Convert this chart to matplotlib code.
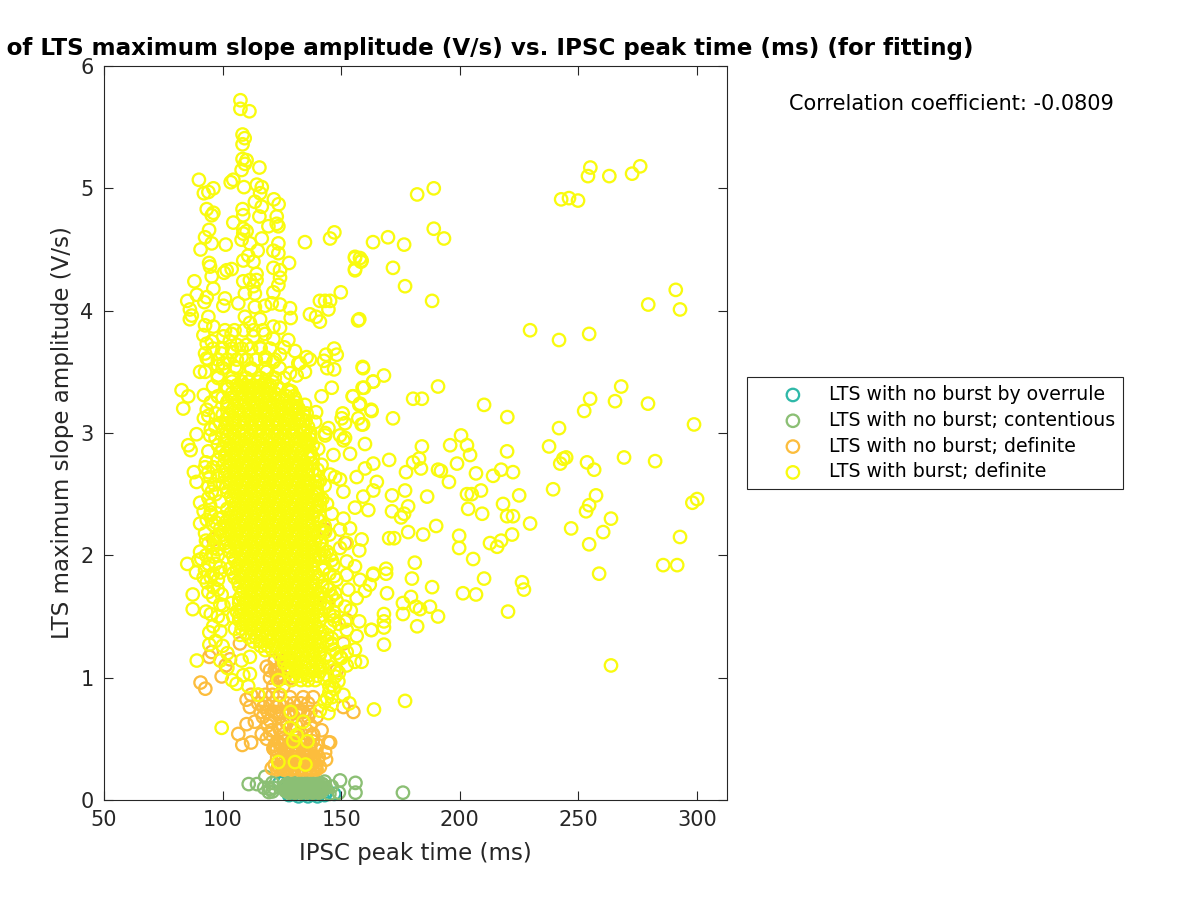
import matplotlib
matplotlib.use("Agg")
import matplotlib.pyplot as plt

TITLE = "Correlation of LTS maximum slope amplitude (V/s) vs. IPSC peak time (ms) (for fitting)"
XLABEL = "IPSC peak time (ms)"
YLABEL = "LTS maximum slope amplitude (V/s)"
NOTE = "Correlation coefficient: -0.0809"
LABELS = ["LTS with no burst by overrule", "LTS with no burst; contentious",
          "LTS with no burst; definite", "LTS with burst; definite"]
XTICKS = [50, 100, 150, 200, 250, 300]
YTICKS = [0, 1, 2, 3, 4, 5, 6]

overrule_x = [140, 147, 144, 126, 128, 132, 136, 143, 124, 130, 138, 127, 141]
overrule_y = [0.03, 0.05, 0.07, 0.15, 0.04, 0.03, 0.03, 0.04, 0.14, 0.05, 0.05, 0.1, 0.06]

contentious_x = [176, 156, 149.5, 156, 149, 111, 114.5, 118, 121, 117.5, 120, 121, 121.5, 119.5, 146, 143, 145,
                 127, 129.5, 132, 134.5, 137, 139.5, 142, 128, 130.5, 133, 135.5, 138, 140.5, 127, 129.5, 132, 134.5,
                 137, 139.5, 142, 128, 130.5, 133, 135.5, 138, 140.5, 129, 131.5, 134, 136.5, 139, 125.5, 143.5,
                 126.5, 128.5, 131, 133.5, 136, 138.5, 141, 127.5, 129, 132.5, 135, 137.5, 140, 142.5, 128, 130, 133, 136, 139, 141.5,
                 126, 127.5, 129, 130.5, 132, 133.5, 135, 136.5, 138, 139.5, 141, 142.5, 126.5, 128, 129.5, 131, 132.5, 134, 135.5, 137, 138.5, 140, 141.5,
                 127, 128.5, 130, 131.5, 133, 134.5, 136, 137.5, 139, 140.5, 142]
contentious_y = [0.06, 0.14, 0.16, 0.06, 0.06, 0.13, 0.13, 0.19, 0.14, 0.10, 0.09, 0.07, 0.10, 0.065, 0.11, 0.15, 0.05,
                 0.13, 0.13, 0.13, 0.13, 0.13, 0.13, 0.13, 0.105, 0.105, 0.105, 0.105, 0.105, 0.105, 0.08, 0.08, 0.08, 0.08,
                 0.08, 0.08, 0.08, 0.06, 0.06, 0.06, 0.06, 0.06, 0.06, 0.15, 0.15, 0.15, 0.15, 0.15, 0.1, 0.1,
                 0.115, 0.115, 0.115, 0.115, 0.115, 0.115, 0.115, 0.09, 0.09, 0.09, 0.09, 0.09, 0.09, 0.09, 0.07, 0.07, 0.07, 0.07, 0.07, 0.07,
                 0.095, 0.095, 0.095, 0.095, 0.095, 0.095, 0.095, 0.095, 0.095, 0.095, 0.095, 0.095, 0.075, 0.075, 0.075, 0.075, 0.075, 0.075, 0.075, 0.075, 0.075, 0.075, 0.075,
                 0.125, 0.125, 0.125, 0.125, 0.125, 0.125, 0.125, 0.125, 0.125, 0.125, 0.125]

no_burst_x = [150.9, 155.1, 99.6, 101.3, 103.1, 90.7, 92.7, 94.4, 95.4, 110.1, 111.5, 117.2, 122.8, 110.1, 106.6, 108.3,
              112, 116.5, 120.7, 113.6, 120, 118.6, 124.2, 121.4, 120.7, 122.8, 127.7, 131.2, 138.2, 143.6, 143.2, 144.6,
              145.3, 141.7, 138.2, 133.3, 125.6, 129.8, 139.6, 136.8, 123.5, 141, 135.4, 127, 131.2, 138.2, 122.8, 124.2,
              125.6, 121.4, 128.4, 122.8, 132.6, 127, 129.8, 124.2, 135.4, 125.6, 134, 139.6, 138.2, 134, 107.3, 118.6,
              148.1, 152.3, 143.2, 143.9, 150.9, 151.6, 96.1, 123, 126, 129, 132, 135, 138, 124, 127, 130, 133, 136, 139,
              125, 128, 131, 134, 137, 140, 126, 129, 132, 135, 122, 125, 128, 131, 134, 137, 140, 116, 119, 122, 125,
              128, 131, 134, 137, 112, 115, 118, 121, 124, 120, 123, 126, 129,
              122, 124.5, 127, 129.5, 132, 134.5, 137, 139.5, 123, 125.5, 128, 130.5, 133, 135.5, 138, 140.5,
              122, 124.5, 127, 129.5, 132, 134.5, 137, 139.5, 123, 126, 129, 132, 135, 138, 120, 126, 132, 138,
              119, 125, 131, 137, 117, 124, 130, 136, 115, 118, 121, 124, 127, 130, 133, 136,
              120, 122, 124, 126, 128, 122, 125, 128]
no_burst_y = [0.76, 0.72, 1.01, 1.10, 1.15, 0.96, 0.91, 1.17, 1.21, 0.82, 0.76, 0.76, 0.71, 0.62, 0.54, 0.45,
              0.47, 0.54, 0.57, 0.64, 0.65, 0.50, 0.46, 0.42, 0.26, 0.41, 0.34, 0.42, 0.33, 0.33, 0.39, 0.47,
              0.47, 0.57, 0.53, 0.25, 0.25, 0.26, 0.25, 0.25, 0.27, 0.27, 0.38, 0.38, 0.30, 0.30, 1.06, 1.01,
              0.93, 0.93, 0.84, 0.76, 0.73, 0.63, 0.57, 0.57, 0.57, 0.50, 0.49, 0.68, 0.84, 0.84, 1.28, 1.09,
              1.06, 1.47, 2.21, 1.61, 1.28, 2.10, 2.13, 0.25, 0.25, 0.25, 0.25, 0.25, 0.25, 0.26, 0.26, 0.26, 0.26, 0.26, 0.26,
              0.33, 0.33, 0.33, 0.33, 0.33, 0.33, 0.39, 0.39, 0.39, 0.39, 0.45, 0.45, 0.45, 0.45, 0.45, 0.45, 0.45, 0.72, 0.72, 0.72, 0.72,
              0.72, 0.72, 0.72, 0.72, 0.86, 0.86, 0.86, 0.86, 0.86, 1.0, 1.0, 1.0, 1.0,
              0.29, 0.29, 0.29, 0.29, 0.29, 0.29, 0.29, 0.29, 0.35, 0.35, 0.35, 0.35, 0.35, 0.35, 0.35, 0.35,
              0.41, 0.41, 0.41, 0.41, 0.41, 0.41, 0.41, 0.41, 0.48, 0.48, 0.48, 0.48, 0.48, 0.48, 0.54, 0.54, 0.54, 0.54,
              0.61, 0.61, 0.61, 0.61, 0.68, 0.68, 0.68, 0.68, 0.79, 0.79, 0.79, 0.79, 0.79, 0.79, 0.79, 0.79,
              1.06, 1.06, 1.06, 1.06, 1.06, 1.14, 1.14, 1.14]

# isolated burst rings: far right and middle
burst_far_x = [242.7, 246, 249.8, 254, 255, 263, 272.6, 276, 279.4, 291, 292.8, 254.5, 241.8, 229.6, 268, 265.4, 254.9,
               252.4, 279.3, 298.7, 241.8, 237.6, 244.8, 243.6, 242.3, 253.6, 256.6, 269.2, 282.3, 239.3, 257.4, 254.5,
               253.2, 246.9, 263.7, 260.4, 254.5, 258.7, 300, 298, 292.8, 285.7, 291.6, 263.7]
burst_far_y = [4.91, 4.92, 4.90, 5.10, 5.17, 5.10, 5.12, 5.18, 4.05, 4.17, 4.01, 3.81, 3.76, 3.84, 3.38, 3.26, 3.28,
               3.18, 3.24, 3.07, 3.04, 2.89, 2.80, 2.79, 2.75, 2.76, 2.70, 2.80, 2.77, 2.54, 2.49, 2.41,
               2.36, 2.22, 2.30, 2.19, 2.09, 1.85, 2.46, 2.43, 2.15, 1.92, 1.92, 1.10]

burst_mid_x = [210.2, 220, 190.8, 184, 180.3, 182, 189, 189, 193.3, 188.3, 176.9, 176.5, 171.8, 169.7, 163.4, 157.9, 155.8,
               155.8, 158.3, 157.1, 159.2, 168, 163.4, 159.6, 171.8, 162.6, 155, 157.9, 159.2, 195.9, 200.5, 203, 204.3,
               184, 182.8, 180.3, 183.6, 177.3, 170.2, 198.8, 206.8, 195.4, 192, 190.8, 217.4, 222.4, 214, 219.9, 208.9, 205,
               203, 203.5, 225, 218.2, 219.9, 222.4, 209.4, 190, 178.2, 184.5, 170.2, 172.3, 176.5, 175.2, 176.9, 178.2,
               171.4, 171.4, 186.2, 229.6, 222, 217.4, 215.7, 212.7, 199.7, 199.7, 205.6, 210.2, 206.8, 201.3, 226.2, 227,
               220.3, 188.3, 181, 168.9, 168.9, 179.8, 181.5, 179.4, 187.4, 183.2, 176, 176, 182, 190.8, 168, 168, 168, 168,
               162.6, 169.3, 163.4, 176.9, 163.8]
burst_mid_y = [3.23, 3.13, 3.38, 3.28, 3.28, 4.95, 5.00, 4.67, 4.59, 4.08, 4.20, 4.54, 4.35, 4.60, 4.56, 4.43, 4.44,
               4.34, 4.40, 3.92, 3.53, 3.47, 3.42, 3.37, 3.12, 3.19, 3.30, 3.24, 3.07, 2.90, 2.98, 2.90, 2.82,
               2.89, 2.79, 2.76, 2.71, 2.68, 2.78, 2.75, 2.67, 2.60, 2.69, 2.70, 2.70, 2.68, 2.65, 2.85, 2.53, 2.50,
               2.50, 2.38, 2.49, 2.42, 2.32, 2.32, 2.34, 2.24, 2.19, 2.17, 2.14, 2.14, 2.34, 2.31, 2.53, 2.40,
               2.49, 2.36, 2.48, 2.26, 2.17, 2.12, 2.07, 2.10, 2.16, 2.06, 1.97, 1.81, 1.68, 1.69, 1.78, 1.72,
               1.54, 1.74, 1.94, 1.89, 1.85, 1.81, 1.58, 1.66, 1.58, 1.56, 1.61, 1.52, 1.42, 1.50, 1.52, 1.41, 1.46, 1.27,
               1.39, 1.69, 1.84, 0.81, 0.74]

# upper plume
burst_top_x = [107.5, 107.5, 111.3, 108.4, 109.3, 108.4, 108.4, 110.1, 109.4, 108, 115.5, 90, 104.5, 103.4, 109, 114.4, 116.5,
               96.1, 94, 92.1, 115.8, 121.6, 123.6, 113.6, 116.5, 108.4, 93.3, 96.1, 95.4, 108.7, 115.5, 122.8, 104.5, 122.8,
               119.3, 123.5, 108.7, 94.3, 110.1, 92.6, 108.7, 116.5, 108, 95.4, 101.3, 123.5, 111.5, 90.7, 114.8, 121.4, 123.5,
               110.8, 108.7, 113, 94.3, 94.7, 128, 121.4, 124.2, 101.7, 103.8, 100.6, 114.3, 95.4, 124.2, 111.5, 114.3, 108.7,
               88.1, 123.5, 113, 96.1, 89.1, 121.4, 109.4, 113.6, 93.3, 101, 92.3, 85.1, 106.6, 120.7, 124.2, 100.3, 113.6,
               117.9, 128.4, 86.2, 87, 86.2, 109.4, 128.7, 94, 115.8, 111.5, 92.6, 121.4, 96.1, 124.2, 117.9, 91.9, 127.7,
               121.4, 100.3, 103.8, 95.4, 110.1, 93.3, 115.8, 130.5, 92.6, 99.6, 124.2, 93.3, 100.3, 121.4, 128.4, 131.9, 90.5,
               92.6, 105.2, 131.2, 118.6, 106, 113, 108, 118, 104, 98, 112, 126, 98, 103,
               101, 105, 109, 113, 117, 96, 100, 104, 108, 112, 116, 120, 94, 98, 102, 106, 110, 114, 118, 122,
               100, 106, 112, 118, 124, 98, 104, 110, 116, 122, 126, 102, 107, 111, 115, 119, 123]
burst_top_y = [5.72, 5.65, 5.63, 5.44, 5.41, 5.36, 5.24, 5.23, 5.20, 5.15, 5.17, 5.07, 5.07, 5.05, 5.01, 5.03, 5.01,
               5.00, 4.97, 4.96, 4.96, 4.91, 4.87, 4.89, 4.85, 4.83, 4.83, 4.80, 4.78, 4.78, 4.77, 4.77, 4.72, 4.71,
               4.69, 4.69, 4.67, 4.66, 4.65, 4.60, 4.63, 4.59, 4.58, 4.55, 4.54, 4.55, 4.55, 4.50, 4.49, 4.49, 4.47,
               4.45, 4.41, 4.40, 4.39, 4.36, 4.39, 4.35, 4.33, 4.33, 4.34, 4.31, 4.30, 4.28, 4.27, 4.25, 4.25, 4.24,
               4.24, 4.21, 4.20, 4.18, 4.13, 4.15, 4.14, 4.14, 4.11, 4.10, 4.07, 4.08, 4.06, 4.06, 4.05, 4.04, 4.03,
               4.04, 4.02, 4.01, 3.96, 3.93, 3.95, 3.94, 3.95, 3.93, 3.90, 3.88, 3.87, 3.87, 3.86, 3.81, 3.80, 3.76,
               3.77, 3.79, 3.81, 3.75, 3.72, 3.73, 3.70, 3.67, 3.65, 3.65, 3.64, 3.61, 3.57, 3.58, 3.49, 3.57, 3.50,
               3.50, 3.54, 3.47, 3.50, 3.72, 3.79, 3.62, 3.62, 3.66, 3.55, 3.52, 3.70, 3.47, 3.75,
               3.84, 3.84, 3.84, 3.84, 3.84, 3.69, 3.69, 3.69, 3.69, 3.69, 3.69, 3.69, 3.6, 3.6, 3.6, 3.6, 3.6, 3.6, 3.6, 3.6,
               3.53, 3.53, 3.53, 3.53, 3.53, 3.45, 3.45, 3.45, 3.45, 3.45, 3.45, 3.38, 3.38, 3.38, 3.38, 3.38, 3.38]

# rings flanking the solid core, right side
burst_right_x = [134.7, 145.3, 147.1, 155.8, 158.6, 155.8, 149.8, 141, 143.2, 145.3, 144.6, 136.8, 139.4, 141, 157.6, 147, 148.1,
                 143.6, 142.7, 144.1, 147, 135.4, 136.8, 132.6, 134.7, 159, 163.5, 159, 146, 141.7, 154.8, 157.6, 127.7, 130.5,
                 134.7, 139.4, 135.4, 131.2, 128.4, 162.8, 150.6, 150.2, 151.6, 157.2, 158.6, 139, 144.6, 143.2, 149.5, 151.6,
                 136.8, 143.2, 150.9, 160, 140.3, 146.7, 153.7, 141.7, 163.5, 160, 156.5, 147.4, 145.3, 149.5, 165, 163.5, 150.9,
                 159.3, 139.6, 155.8, 161.4, 141, 146, 150.9, 141, 153.7, 143.2, 149.5, 158.6, 141.7, 152.3, 149.5, 157.6, 145.3,
                 152.3, 146.7, 155.8, 163.5, 142.4, 152.3, 157.9, 148, 162, 160, 153, 147.4, 156.5, 141.7, 144.6, 151.6, 154,
                 146.7, 151.6, 157.6, 145.3, 152.3, 162.8, 156.5, 146, 150.9, 146.7, 155.8, 152.3, 149.5, 158.6, 155.8, 152.3,
                 147.4, 148.8, 150.9, 153.4, 144.6, 146, 141, 143, 145, 147, 144, 146, 142, 144, 146, 143, 145,
                 139, 141, 143, 140, 142, 144, 139, 141, 143, 145, 140, 142, 144, 146, 141, 143, 145, 147, 142, 144, 146, 148, 143, 145, 147,
                 149, 142, 144, 146, 148, 150, 141, 143, 145, 147, 149, 143, 145, 147, 144, 146,
                 127, 130, 128, 131, 129, 132, 131, 134, 132, 135, 133, 136, 134, 137, 135, 137, 136, 138, 137, 138, 138, 140, 138, 140,
                 139, 140, 139, 141, 140, 140, 142, 141, 141, 143, 141, 143, 126, 129, 128, 131, 130, 133, 132, 135, 134, 136, 135, 137]
burst_right_y = [4.56, 4.59, 4.64, 4.43, 4.41, 4.33, 4.15, 4.08, 4.08, 4.08, 4.01, 3.97, 3.95, 3.91, 3.93, 3.69, 3.64,
                 3.64, 3.59, 3.53, 3.52, 3.62, 3.60, 3.57, 3.50, 3.54, 3.42, 3.37, 3.37, 3.30, 3.30, 3.23, 3.35, 3.28,
                 3.23, 3.17, 3.16, 3.15, 3.12, 3.18, 3.16, 3.12, 3.08, 3.12, 3.07, 3.09, 3.04, 3.00, 2.98, 2.96,
                 2.98, 2.98, 2.94, 2.91, 2.87, 2.82, 2.83, 2.74, 2.75, 2.71, 2.64, 2.64, 2.66, 2.62, 2.60, 2.53, 2.52,
                 2.48, 2.55, 2.39, 2.37, 2.45, 2.34, 2.30, 2.32, 2.22, 2.19, 2.21, 2.13, 2.11, 2.10, 2.06, 2.04, 2.00,
                 1.95, 1.92, 1.91, 1.85, 1.88, 1.84, 1.80, 1.80, 1.76, 1.71, 1.72, 1.69, 1.65, 1.69, 1.61, 1.58, 1.55,
                 1.54, 1.46, 1.46, 1.42, 1.39, 1.39, 1.34, 1.32, 1.29, 1.23, 1.23, 1.21, 1.17, 1.13, 1.13, 1.10,
                 1.01, 0.97, 0.86, 0.79, 0.71, 0.84, 0.73, 1.9, 1.72, 1.5, 1.35, 1.28, 1.1, 1.02, 0.94, 0.8, 0.88,
                 2.66, 2.61, 2.57, 2.5, 2.46, 2.42, 2.36, 2.28, 2.24, 2.17, 2.16, 2.05, 2.03, 1.96, 1.98, 1.9, 1.85, 1.83, 1.75, 1.74, 1.67, 1.63,
                 1.57, 1.52, 1.47, 1.44, 1.38, 1.3, 1.27, 1.2, 1.16, 1.2, 1.16, 1.09, 1.06, 1.04, 0.99, 0.93, 0.91, 0.83, 0.78,
                 3.3, 3.3, 3.25, 3.25, 3.2, 3.2, 3.15, 3.15, 3.1, 3.1, 3.05, 3.05, 3.0, 3.0, 2.95, 2.95, 2.9, 2.9, 2.85, 2.8, 2.75, 2.7, 2.7, 2.6,
                 2.6, 2.5, 2.5, 2.4, 2.4, 2.3, 2.2, 2.2, 2.1, 2.0, 2.0, 1.9, 1.9, 3.34, 3.34, 3.22, 3.22, 3.12, 3.12, 3.02, 3.02, 2.92, 2.92, 2.82]

# rings flanking the solid core, left side and base
burst_left_x = [82.7, 85.5, 83.4, 92.1, 93.3, 92.1, 89, 94.7, 85.5, 86.5, 94, 87.9, 92.6, 94, 89, 94.7, 95.4, 94, 90.5, 94.7,
                96.5, 98, 90.5, 93.3, 98.2, 92.6, 96.8, 90.5, 85.1, 89.8, 88.8, 92.6, 96.1, 93.3, 96.1, 99.6, 100.3, 87.4, 87.4,
                94.4, 94.4, 89.1, 105.9, 99.6, 103.8, 104.5, 105.2, 107.3, 108, 111.5, 108.7, 111.5, 110.8, 115, 123.5, 124.2,
                128.7, 134, 128.4, 131.2, 129.8, 135.8, 123.5, 130.5, 134.9, 97, 95, 98, 96, 94, 97, 99, 98, 99, 96, 98, 93, 95,
                96, 98, 94, 97, 99, 95, 97, 99, 93, 96, 98, 94, 97, 99, 92, 95, 97, 99, 93, 96, 98, 91, 94, 97, 99, 92, 95, 98,
                94, 96, 99, 93, 95, 98, 100, 96, 99, 97, 100, 102, 99, 102, 104]
burst_left_y = [3.35, 3.30, 3.20, 3.31, 3.19, 3.12, 2.99, 2.98, 2.90, 2.86, 2.85, 2.68, 2.72, 2.68, 2.60, 2.64, 2.52, 2.47,
                2.43, 2.41, 2.58, 2.78, 2.26, 2.29, 2.30, 2.18, 2.11, 2.03, 1.93, 1.96, 1.86, 1.88, 1.99, 1.78, 1.74, 1.68, 1.59,
                1.68, 1.56, 1.37, 1.27, 1.14, 0.95, 0.59, 1.61, 1.50, 1.40, 1.35, 1.14, 1.17, 1.02, 1.03, 0.93, 0.86, 0.98,
                0.86, 0.72, 0.64, 0.59, 0.53, 0.48, 0.48, 0.31, 0.31, 0.29, 3.05, 3.25, 2.9, 2.25, 2.1, 2.15, 2.22, 2.05, 1.9, 1.85,
                1.8, 2.0, 2.35,
                3.38, 3.3, 3.14, 3.16, 3.08, 3.03, 2.96, 2.84, 2.76, 2.72, 2.65, 2.56, 2.5, 2.44, 2.36, 2.33, 2.27, 2.16, 2.12, 2.06,
                2.0, 1.97, 1.93, 1.93, 1.86, 1.82, 1.82, 1.72,
                1.7, 1.66, 1.6, 1.54, 1.52, 1.5, 1.47, 1.42, 1.38, 1.3, 1.26, 1.2, 1.14, 1.08, 0.98]

# solid core: one list of peak times per amplitude level
core_levels = [3.42, 3.36, 3.29, 3.22, 3.15, 3.08, 3.01, 2.94, 2.87, 2.80, 2.73, 2.66, 2.59, 2.52, 2.45, 2.38, 2.31, 2.24,
               2.17, 2.10, 2.03, 1.96, 1.89, 1.82, 1.75, 1.68, 1.61, 1.54, 1.47, 1.40, 1.33, 1.26, 1.19, 1.12, 1.05, 0.98]
core_times = [
    [104, 108, 111, 115, 118, 121],
    [102, 106, 110, 113, 117, 120, 124],
    [100, 104, 108, 111, 115, 118, 122, 125],
    [102, 105, 109, 113, 116, 120, 123, 127],
    [100, 103, 107, 111, 114, 118, 121, 125, 128],
    [102, 105, 109, 112, 116, 119, 123, 126, 130],
    [100, 103, 107, 110, 114, 117, 121, 124, 128, 131],
    [101, 105, 108, 112, 115, 119, 122, 126, 129, 133],
    [100, 103, 106, 110, 113, 117, 120, 124, 127, 131, 134],
    [101, 105, 108, 112, 115, 119, 122, 126, 129, 133, 136],
    [100, 103, 106, 110, 113, 117, 120, 124, 127, 131, 134],
    [101, 105, 108, 112, 115, 119, 122, 126, 129, 133, 136],
    [100, 103, 106, 110, 113, 117, 120, 124, 127, 131, 134, 137],
    [102, 105, 108, 112, 115, 119, 122, 126, 129, 133, 136],
    [104, 107, 110, 113, 117, 120, 124, 127, 131, 134, 138],
    [102, 105, 108, 112, 115, 119, 122, 126, 129, 133, 136],
    [100, 103, 106, 110, 113, 117, 120, 124, 127, 131, 134, 138],
    [101, 105, 108, 112, 115, 119, 122, 126, 129, 133, 136],
    [100, 103, 106, 110, 113, 117, 120, 124, 127, 131, 134, 138],
    [101, 105, 108, 112, 115, 119, 122, 126, 129, 133, 136, 139],
    [103, 106, 110, 113, 117, 120, 124, 127, 131, 134, 138],
    [105, 108, 112, 115, 119, 122, 126, 129, 133, 136, 139],
    [103, 106, 110, 113, 117, 120, 124, 127, 131, 134, 138],
    [105, 108, 112, 115, 119, 122, 126, 129, 133, 136, 140],
    [107, 110, 113, 117, 120, 124, 127, 131, 134, 138],
    [108, 112, 115, 119, 122, 126, 129, 133, 136, 140],
    [107, 110, 113, 117, 120, 124, 127, 131, 134, 138, 141],
    [106, 108, 112, 115, 119, 122, 126, 129, 133, 136, 140],
    [107, 110, 113, 117, 120, 124, 127, 131, 134, 138, 141],
    [108, 112, 115, 119, 122, 126, 129, 133, 136, 140],
    [111, 114, 118, 121, 124, 127, 131, 134, 138, 141],
    [116, 119, 122, 126, 129, 133, 136, 140],
    [124, 127, 131, 134, 138, 141],
    [126, 129, 133, 136, 140],
    [128, 131, 134, 138, 141],
    [129, 133, 136, 139],
]

core2_levels = [3.39, 3.325, 3.255, 3.185, 3.115, 3.045, 2.975, 2.905, 2.835, 2.765, 2.695, 2.625, 2.555, 2.485, 2.415, 2.345,
                2.275, 2.205, 2.135, 2.065, 1.995, 1.925, 1.855, 1.785, 1.715, 1.645, 1.575, 1.505, 1.435, 1.365, 1.295, 1.225,
                1.155, 1.085, 1.015]
core2_times = [
    [106, 109.5, 113, 116.5, 120],
    [104, 108, 111.5, 115, 118.5, 122],
    [102, 106, 109.5, 113, 116.5, 120, 123.5],
    [104, 107, 111, 114.5, 118, 121.5, 125],
    [102, 105, 109, 112.5, 116, 119.5, 123, 126.5],
    [101, 104, 108, 111.5, 115, 118.5, 122, 125.5, 129],
    [102, 105, 109, 112, 116, 119.5, 123, 126.5, 130],
    [103, 106.5, 110, 113.5, 117, 120.5, 124, 127.5, 131],
    [101.5, 105, 108.5, 112, 115.5, 119, 122.5, 126, 129.5, 133],
    [103, 106.5, 110, 113.5, 117, 120.5, 124, 127.5, 131, 134.5],
    [101.5, 105, 108.5, 112, 115.5, 119, 122.5, 126, 129.5, 133, 136],
    [103, 106.5, 110, 113.5, 117, 120.5, 124, 127.5, 131, 134.5],
    [101.5, 105, 108.5, 112, 115.5, 119, 122.5, 126, 129.5, 133, 136],
    [103.5, 106.5, 110, 113.5, 117, 120.5, 124, 127.5, 131, 134.5, 138],
    [105, 108.5, 112, 115.5, 119, 122.5, 126, 129.5, 133, 136],
    [103.5, 106.5, 110, 113.5, 117, 120.5, 124, 127.5, 131, 134.5, 138],
    [101.5, 105, 108.5, 112, 115.5, 119, 122.5, 126, 129.5, 133, 136],
    [103, 106.5, 110, 113.5, 117, 120.5, 124, 127.5, 131, 134.5, 138],
    [101.5, 105, 108.5, 112, 115.5, 119, 122.5, 126, 129.5, 133, 136],
    [103, 106.5, 110, 113.5, 117, 120.5, 124, 127.5, 131, 134.5, 138],
    [104.5, 108.5, 112, 115.5, 119, 122.5, 126, 129.5, 133, 136, 139],
    [106.5, 110, 113.5, 117, 120.5, 124, 127.5, 131, 134.5, 138],
    [104.5, 108.5, 112, 115.5, 119, 122.5, 126, 129.5, 133, 136, 139],
    [106.5, 110, 113.5, 117, 120.5, 124, 127.5, 131, 134.5, 138],
    [108.5, 112, 115.5, 119, 122.5, 126, 129.5, 133, 136, 139],
    [107, 110, 113.5, 117, 120.5, 124, 127.5, 131, 134.5, 138, 141],
    [108.5, 112, 115.5, 119, 122.5, 126, 129.5, 133, 136, 139],
    [107, 110, 113.5, 117, 120.5, 124, 127.5, 131, 134.5, 138, 141],
    [108.5, 112, 115.5, 119, 122.5, 126, 129.5, 133, 136, 139],
    [110, 113.5, 117, 120.5, 124, 127.5, 131, 134.5, 138, 141],
    [113, 116, 119.5, 123, 126, 129.5, 133, 136, 139],
    [118, 121, 125, 128, 131.5, 134.5, 138, 141],
    [126, 129, 132.5, 135, 139],
    [127.5, 131, 134.5, 138, 141],
    [130, 132.5, 136, 140],
]

burst_x = burst_far_x + burst_mid_x + burst_top_x + burst_right_x + burst_left_x
burst_y = burst_far_y + burst_mid_y + burst_top_y + burst_right_y + burst_left_y
for level, times in zip(core_levels + core2_levels, core_times + core2_times):
    burst_x = burst_x + times
    burst_y = burst_y + [level] * len(times)

DARK = "#262626"
COLORS = ["#2fb8a8", "#8bbf74", "#fcbd3d", "#f9fb0e"]
SIZE = 80
LW = 1.65

fig = plt.figure(figsize=(12, 9), dpi=100)
ax = fig.add_axes([104 / 1200, 1 - 800 / 900, (727 - 104) / 1200, (800 - 66) / 900])
series = [(overrule_x, overrule_y), (contentious_x, contentious_y), (no_burst_x, no_burst_y), (burst_x, burst_y)]
for (xs, ys), color, label in zip(series, COLORS, LABELS):
    ax.scatter(xs, ys, s=SIZE, facecolors="none", edgecolors=color, linewidths=LW, label=label, clip_on=False)

ax.set_xlim(50, 312.6)
ax.set_ylim(0, 6)
ax.set_xticks(XTICKS)
ax.set_yticks(YTICKS)
ax.tick_params(direction="in", top=True, right=True, length=6.5, width=0.8, color=DARK,
               labelcolor=DARK, labelsize=15, pad=7.5)
for spine in ax.spines.values():
    spine.set_color(DARK)
    spine.set_linewidth(0.8)
ax.set_xlabel(XLABEL, fontsize=16.5, color=DARK, labelpad=8.5)
ax.set_ylabel(YLABEL, fontsize=16.5, color=DARK, labelpad=4.5)
fig.text(413.4 / 1200, 1 - 48 / 900, TITLE, ha="center", va="center", fontsize=16.6, fontweight="bold", color="black")
fig.text(789 / 1200, 1 - 104 / 900, NOTE, ha="left", va="center", fontsize=15, color="black")

leg = ax.legend(loc="upper left", bbox_to_anchor=(747 / 1200, 1 - 377 / 900), bbox_transform=fig.transFigure,
                fontsize=13.6, frameon=True, fancybox=False, framealpha=1, edgecolor=DARK, borderaxespad=0,
                borderpad=0.42, labelspacing=0.36, handletextpad=-0.11, handlelength=4.02, scatterpoints=1)
leg.get_frame().set_linewidth(0.8)
for text in leg.get_texts():
    text.set_color("black")

fig.savefig("out.png", dpi=100)
